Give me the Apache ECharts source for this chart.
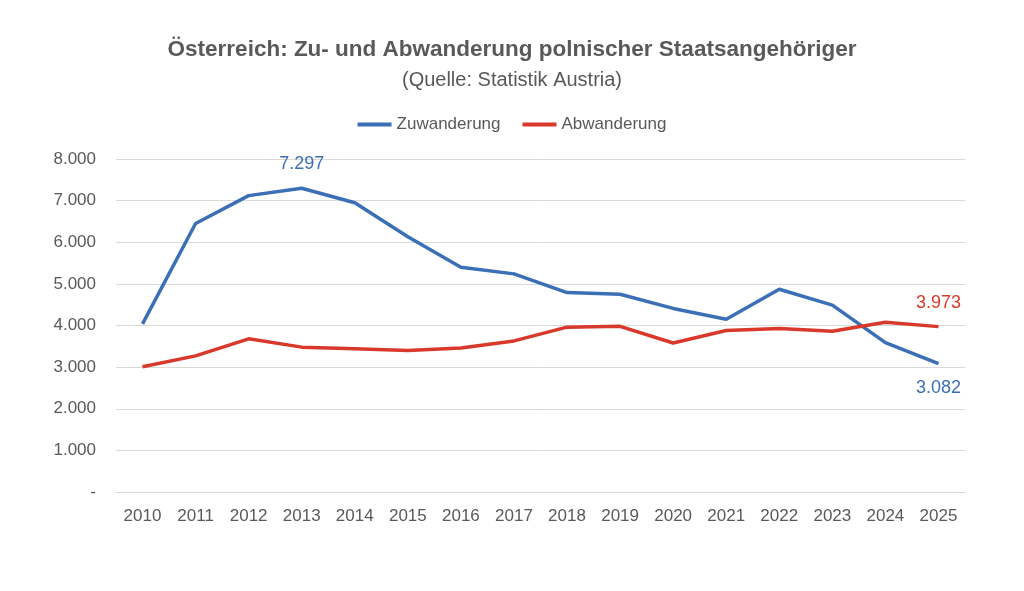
<!DOCTYPE html>
<html>
<head>
<meta charset="utf-8">
<script src="https://cdn.jsdelivr.net/npm/echarts@6/dist/echarts.min.js"></script>
<style>
html,body{margin:0;padding:0;background:#fff;}
#c{width:1024px;height:591px;}
</style>
</head>
<body>
<div id="c"></div>
<script>
var years = ['2010','2011','2012','2013','2014','2015','2016','2017','2018','2019','2020','2021','2022','2023','2024','2025'];
var zuwanderung = [4040,6450,7120,7297,6950,6130,5400,5240,4790,4750,4410,4150,4870,4490,3590,3082];
var abwanderung = [3010,3270,3680,3480,3440,3400,3460,3630,3960,3980,3580,3880,3930,3860,4080,3973];
var yTicks = [0,1000,2000,3000,4000,5000,6000,7000,8000];

var FONT = '"Liberation Sans Narrow","Liberation Sans",sans-serif';
var GRAY = '#595959';
var BLUE = '#3b6fb6';
var RED = '#d8392b';

function fmt(v){
  if (v === 0) return '-';
  return String(Math.round(v)).replace(/\B(?=(\d{3})+(?!\d))/g, '.');
}

var chart = echarts.init(document.getElementById('c'));
chart.setOption({
  animation:false,
  title:[{
    text:'Österreich: Zu- und Abwanderung polnischer Staatsangehöriger',
    left:'center', top:33,
    textStyle:{fontFamily:FONT,fontWeight:'bold',fontSize:22.5,color:GRAY}
  },{
    text:'(Quelle: Statistik Austria)',
    left:'center', top:65,
    textStyle:{fontFamily:FONT,fontWeight:'normal',fontSize:20,color:GRAY}
  }],
  legend:{
    top:111, left:'center', itemWidth:34, itemHeight:4, itemGap:22,
    icon:'rect',
    textStyle:{fontFamily:FONT,fontSize:17,color:GRAY},
    data:[{name:'Zuwanderung',itemStyle:{color:BLUE}},{name:'Abwanderung',itemStyle:{color:RED}}]
  },
  grid:{left:116, right:59, top:159, bottom:99, containLabel:false},
  xAxis:{
    type:'category', data:years, boundaryGap:true,
    axisLine:{show:true,lineStyle:{color:'#d9d9d9',width:1}},
    axisTick:{show:false},
    axisLabel:{fontFamily:FONT,fontSize:17,color:GRAY,margin:16}
  },
  yAxis:{
    type:'value', min:0, max:8000, interval:1000,
    axisLine:{show:false}, axisTick:{show:false},
    splitLine:{lineStyle:{color:'#d9d9d9',width:1}},
    axisLabel:{fontFamily:FONT,fontSize:17,color:GRAY,margin:20,formatter:fmt}
  },
  series:[{
    name:'Zuwanderung', type:'line', data:zuwanderung,
    symbol:'circle', symbolSize:0.5, showSymbol:true,
    lineStyle:{color:BLUE,width:3.5}, itemStyle:{color:BLUE},
    label:{show:true, fontFamily:FONT, fontSize:18, color:BLUE,
      position:'top', distance:15,
      formatter:function(p){
        if (p.dataIndex===3 || p.dataIndex===15) return fmt(p.value);
        return '';
      }
    },
    labelLayout:function(p){
      if (p.dataIndex===15) return {dy: 49};
      return {};
    }
  },{
    name:'Abwanderung', type:'line', data:abwanderung,
    symbol:'circle', symbolSize:0.5, showSymbol:true,
    lineStyle:{color:RED,width:3.5}, itemStyle:{color:RED},
    label:{show:true, fontFamily:FONT, fontSize:18, color:RED,
      position:'top', distance:14,
      formatter:function(p){ return p.dataIndex===15 ? fmt(p.value) : ''; }
    }
  }]
});
</script>
</body>
</html>
